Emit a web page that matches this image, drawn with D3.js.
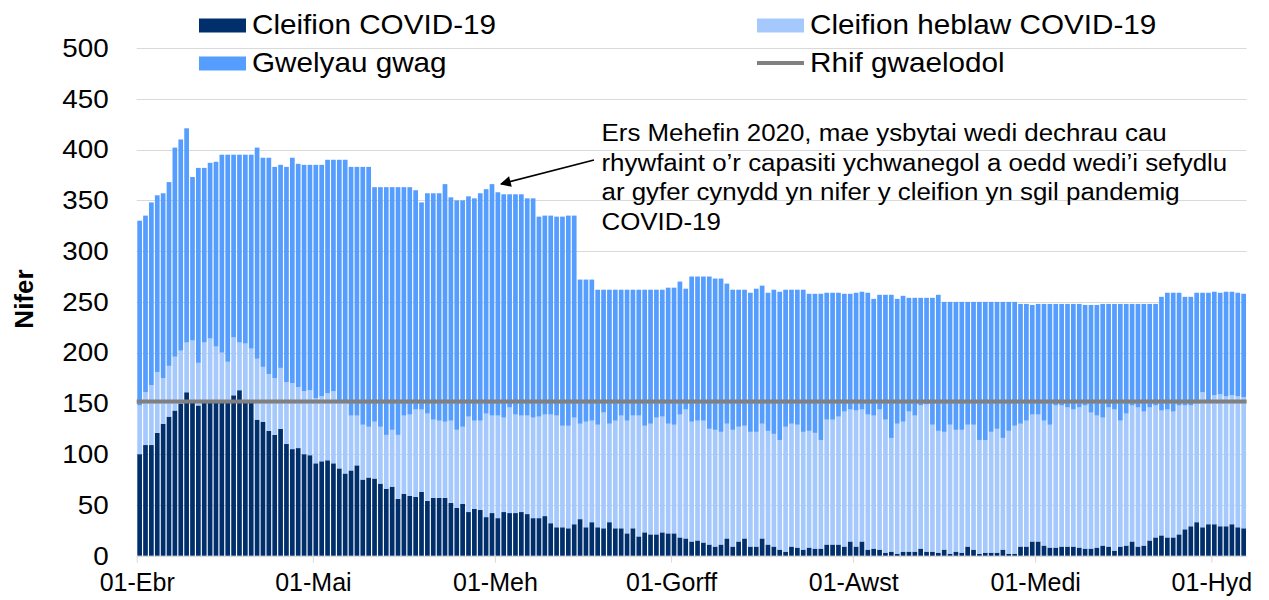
<!DOCTYPE html>
<html><head><meta charset="utf-8">
<script src="https://cdn.jsdelivr.net/npm/d3@7"></script>
<style>
body{margin:0;background:#fff}
text{font-family:"Liberation Sans",Arial,sans-serif;fill:#000}
</style>
</head><body>
<svg id="chart" width="1269" height="600"></svg>
<script>
// ---- data ----
const startDate = new Date(2020, 3, 1);
const covid = [100,109,109,121,130,137,143,150,161,153,148,152,152,152,152,152,158,163,153,152,134,132,123,119,125,110,105,106,100,99,
91,93,94,91,86,81,84,89,75,77,76,71,66,68,56,61,59,58,63,54,57,57,57,52,47,51,43,46,45,38,42,
37,43,42,42,43,41,37,37,39,32,28,28,27,31,36,28,33,28,27,33,27,27,22,27,19,23,21,21,23,22,
22,18,17,14,15,13,11,9,11,17,9,14,17,9,9,17,11,9,6,4,9,8,6,8,7,7,11,11,11,9,14,
9,14,6,7,6,3,4,2,4,4,4,7,4,4,3,6,2,4,3,9,6,2,3,3,3,6,2,2,9,9,14,
14,10,8,8,9,9,9,8,7,7,8,10,9,5,9,10,14,9,10,15,18,20,18,18,21,26,29,33,28,31,
31,29,29,31,28,27];
const nonCovid = [48,52,59,60,45,50,53,52,49,59,42,58,62,54,48,39,57,47,56,52,60,54,56,56,60,61,65,60,62,64,
64,64,66,71,67,70,54,49,54,50,56,56,53,56,63,77,80,86,81,86,77,76,75,81,77,76,94,87,88,102,96,
101,93,104,97,95,97,99,100,100,107,110,100,101,105,94,104,100,101,114,97,106,111,111,111,119,105,109,115,114,108,
107,121,127,118,118,120,114,115,111,113,115,113,111,113,113,113,112,111,108,123,121,121,116,115,114,107,123,123,126,133,130,
134,130,133,131,138,131,112,128,128,138,134,141,145,125,120,116,127,120,121,120,123,112,111,119,122,110,121,126,121,124,125,
125,123,121,140,139,137,135,138,141,134,130,126,137,139,124,130,134,137,132,131,130,123,126,124,127,122,119,117,133,121,
127,130,128,127,129,129];
const emptyBeds = [182,174,180,174,182,181,206,208,211,161,192,172,173,182,195,204,180,185,186,191,208,206,213,208,200,212,222,220,223,222,
230,228,230,228,237,239,245,245,254,256,231,236,244,239,244,225,224,216,204,217,223,224,234,220,226,223,217,219,224,221,228,
220,220,210,217,218,214,216,197,196,196,196,206,207,199,142,140,139,133,121,132,129,124,129,124,124,134,132,126,125,134,
135,131,119,143,142,142,150,149,151,138,138,135,134,137,141,136,136,142,146,135,132,133,140,135,137,144,125,125,122,116,114,
116,116,120,115,113,123,141,123,124,112,116,106,105,125,134,128,121,126,126,121,121,136,136,128,125,134,127,122,118,115,108,
109,115,119,100,100,102,104,102,99,106,109,112,102,104,115,108,100,102,106,102,100,112,115,117,111,107,107,109,98,107,
102,100,103,102,102,102];
const baselineValue = 152;
const monthStarts = ["2020-04-01","2020-05-01","2020-06-01","2020-07-01","2020-08-01","2020-09-01","2020-10-01"];
const monthLabels = ["01-Ebr","01-Mai","01-Meh","01-Gorff","01-Awst","01-Medi","01-Hyd"];
const yTicks = [0,50,100,150,200,250,300,350,400,450,500];
const seriesKeys = ["covid","nonCovid","empty"];
const seriesNames = ["Cleifion COVID-19","Cleifion heblaw COVID-19","Gwelyau gwag","Rhif gwaelodol"];
const seriesColors = ["#002f6c","#a6c9fd","#559dfe","#808080"];
const yTitle = "Nifer";
const annotationLines = [
  "Ers Mehefin 2020, mae ysbytai wedi dechrau cau",
  "rhywfaint o\u2019r capasiti ychwanegol a oedd wedi\u2019i sefydlu",
  "ar gyfer cynydd yn nifer y cleifion yn sgil pandemig",
  "COVID-19"
];

// ---- build ----
const n = covid.length;
const dates = d3.timeDay.range(startDate, d3.timeDay.offset(startDate, n));
const rows = dates.map((d, i) => ({date: d, covid: covid[i], nonCovid: nonCovid[i], empty: emptyBeds[i]}));

const svg = d3.select("#chart");
const pLeft = 136.7, pRight = 1246.6, pTop = 48.1, pBottom = 555.7;

const x = d3.scaleBand().domain(dates).range([pLeft, pRight]).paddingInner(0.2).paddingOuter(0.1);
const xt = d3.scaleTime().domain([startDate, d3.timeDay.offset(startDate, n)]).range([pLeft, pRight]);
const y = d3.scaleLinear().domain([0, 500]).range([pBottom, pTop]);
const color = d3.scaleOrdinal().domain(seriesKeys).range(seriesColors.slice(0, 3));

// gridlines
svg.append("g").selectAll("line").data(yTicks).join("line")
  .attr("x1", pLeft).attr("x2", pRight)
  .attr("y1", d => Math.round(y(d)) + 0.5).attr("y2", d => Math.round(y(d)) + 0.5)
  .attr("stroke", "#d9d9d9").attr("stroke-width", 1);

// bars
const stacked = d3.stack().keys(seriesKeys)(rows);
svg.append("g").selectAll("g").data(stacked).join("g")
  .attr("fill", s => color(s.key))
  .selectAll("rect").data(s => s).join("rect")
  .attr("x", d => x(d.data.date))
  .attr("width", x.bandwidth())
  .attr("y", d => y(d[1]))
  .attr("height", d => y(d[0]) - y(d[1]));

// baseline line
const line = d3.line().x(d => xt(d)).y(() => y(baselineValue));
svg.append("path")
  .datum([startDate, d3.timeDay.offset(startDate, n)])
  .attr("d", line)
  .attr("stroke", seriesColors[3]).attr("stroke-width", 4).attr("fill", "none");

// y axis
const ySx = 1.07;
const yAxis = svg.append("g").attr("transform", `translate(${pLeft},0)`)
  .call(d3.axisLeft(y).tickValues(yTicks).tickSize(0).tickPadding(28));
yAxis.select(".domain").remove();
yAxis.selectAll("text").attr("font-size", 26).attr("font-family", "Liberation Sans, Arial, sans-serif").attr("fill", "#000")
  .attr("x", -28 / ySx).attr("transform", `scale(${ySx},1)`);

// x axis
const parse = d3.timeParse("%Y-%m-%d");
const xAxis = svg.append("g").attr("transform", `translate(0,${pBottom})`)
  .call(d3.axisBottom(xt).tickValues(monthStarts.map(parse)).tickFormat((d, i) => monthLabels[i]).tickSize(7).tickPadding(11));
xAxis.select(".domain").remove();
xAxis.selectAll(".tick line").attr("stroke", "#d9d9d9");
xAxis.selectAll("text").attr("font-size", 25).attr("font-family", "Liberation Sans, Arial, sans-serif").attr("fill", "#000");

// y title
svg.append("text")
  .attr("transform", "translate(33,299) rotate(-90)")
  .attr("text-anchor", "middle")
  .attr("font-size", 26).attr("font-weight", "bold")
  .text(yTitle);

// legend
const lSx = 1.06;
const legendItems = [
  {name: seriesNames[0], col: seriesColors[0], type: "rect", lx: 199, ly: 18.5},
  {name: seriesNames[1], col: seriesColors[1], type: "rect", lx: 757, ly: 18.5},
  {name: seriesNames[2], col: seriesColors[2], type: "rect", lx: 199, ly: 56.5},
  {name: seriesNames[3], col: seriesColors[3], type: "line", lx: 757, ly: 56.5}
];
const lg = svg.append("g").selectAll("g").data(legendItems).join("g")
  .attr("transform", d => `translate(${d.lx},${d.ly})`);
lg.filter(d => d.type === "rect").append("rect")
  .attr("width", 47).attr("height", 14).attr("fill", d => d.col);
lg.filter(d => d.type === "line").append("line")
  .attr("x1", 0).attr("x2", 47).attr("y1", 6.5).attr("y2", 6.5)
  .attr("stroke", d => d.col).attr("stroke-width", 4);
lg.append("text").attr("transform", `translate(53,15) scale(${lSx},1)`)
  .attr("font-size", 28).text(d => d.name);

// annotation
const defs = svg.append("defs");
defs.append("marker").attr("id", "arrow").attr("viewBox", "0 0 10 10")
  .attr("refX", 9).attr("refY", 5).attr("markerWidth", 7).attr("markerHeight", 6)
  .attr("markerUnits", "strokeWidth").attr("orient", "auto")
  .append("path").attr("d", "M0,0 L10,5 L0,10 Z").attr("fill", "#000");
svg.append("line").attr("x1", 594).attr("y1", 160).attr("x2", 501).attr("y2", 184)
  .attr("stroke", "#000").attr("stroke-width", 1.8).attr("marker-end", "url(#arrow)");
svg.append("g").attr("transform", "translate(601.5,0) scale(1.057,1)")
  .selectAll("text").data(annotationLines).join("text")
  .attr("x", 0).attr("y", (d, i) => 141 + i * 29.6)
  .attr("font-size", 24.5).text(d => d);
</script>
</body></html>
